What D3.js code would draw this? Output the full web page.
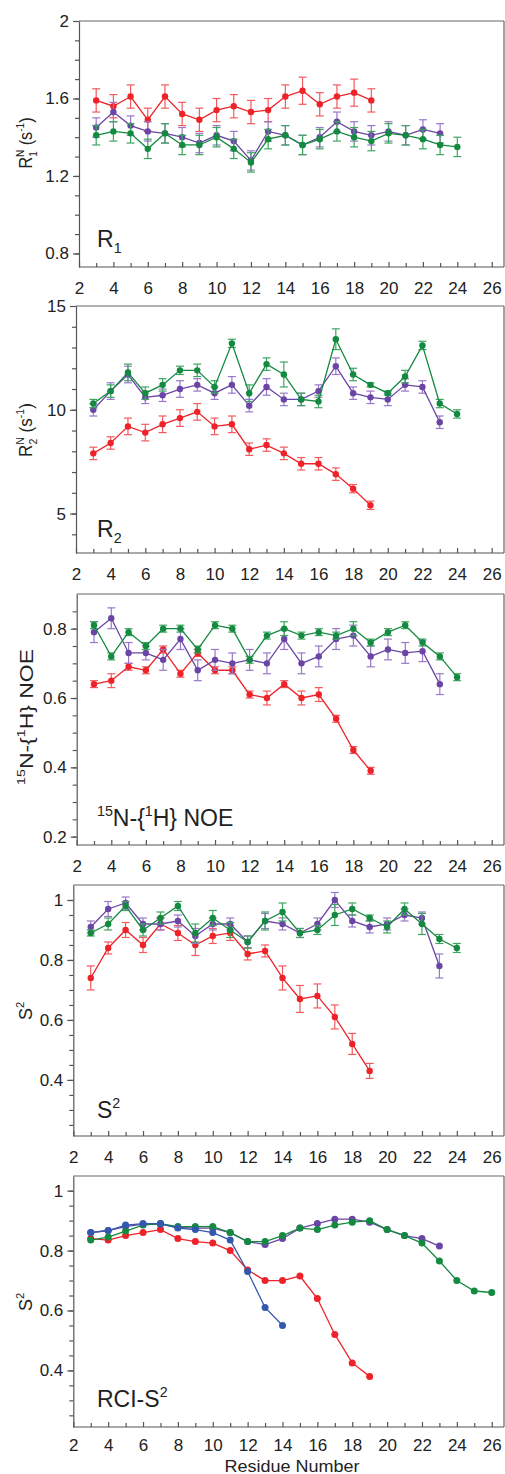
<!DOCTYPE html>
<html>
<head>
<meta charset="utf-8">
<script src="https://cdn.jsdelivr.net/npm/d3@7"></script>
<style>
  body { margin: 0; background: #fff; }
  svg { display: block; font-family: "Liberation Sans", Arial, sans-serif; }
</style>
</head>
<body>
<div id="wrapper"></div>
<script>
// residue numbers start at 3 for every series
const firstResidue = 3;
const xTicks = [2, 4, 6, 8, 10, 12, 14, 16, 18, 20, 22, 24, 26];

// R1 (s-1)
const r1Red = [1.59, 1.56, 1.61, 1.49, 1.61, 1.52, 1.49, 1.54, 1.56, 1.53, 1.54, 1.61, 1.64, 1.57, 1.61, 1.63, 1.59];
const r1RedErr = [0.06, 0.06, 0.06, 0.06, 0.06, 0.06, 0.06, 0.06, 0.06, 0.06, 0.06, 0.06, 0.07, 0.06, 0.06, 0.07, 0.06];
const r1Purple = [1.45, 1.53, 1.46, 1.43, 1.42, 1.40, 1.37, 1.41, 1.38, 1.28, 1.43, 1.41, 1.36, 1.40, 1.48, 1.43, 1.41, 1.43, 1.41, 1.44, 1.42];
const r1PurpleErr = [0.05, 0.05, 0.05, 0.05, 0.05, 0.05, 0.05, 0.05, 0.05, 0.05, 0.05, 0.05, 0.05, 0.05, 0.05, 0.05, 0.05, 0.05, 0.05, 0.05, 0.05];
const r1Green = [1.41, 1.43, 1.42, 1.34, 1.42, 1.36, 1.36, 1.40, 1.34, 1.27, 1.39, 1.41, 1.36, 1.39, 1.43, 1.40, 1.38, 1.42, 1.41, 1.39, 1.36, 1.35];
const r1GreenErr = [0.05, 0.05, 0.05, 0.05, 0.05, 0.05, 0.05, 0.05, 0.05, 0.05, 0.05, 0.05, 0.05, 0.05, 0.05, 0.05, 0.05, 0.05, 0.05, 0.05, 0.05, 0.05];
const r1Ticks = [0.8, 1.2, 1.6, 2];

// R2 (s-1)
const r2Red = [7.9, 8.4, 9.2, 8.9, 9.3, 9.6, 9.9, 9.2, 9.3, 8.1, 8.3, 7.9, 7.4, 7.4, 6.9, 6.2, 5.4];
const r2RedErr = [0.3, 0.3, 0.4, 0.4, 0.4, 0.4, 0.4, 0.4, 0.4, 0.3, 0.3, 0.3, 0.3, 0.3, 0.3, 0.2, 0.2];
const r2Purple = [10.0, 10.9, 11.7, 10.6, 10.7, 11.0, 11.2, 10.8, 11.2, 10.2, 11.1, 10.5, 10.5, 10.9, 12.1, 10.8, 10.6, 10.5, 11.2, 11.1, 9.4];
const r2PurpleErr = [0.3, 0.4, 0.4, 0.3, 0.3, 0.4, 0.3, 0.3, 0.4, 0.3, 0.4, 0.3, 0.3, 0.3, 0.4, 0.3, 0.3, 0.3, 0.3, 0.3, 0.3];
const r2Green = [10.3, 10.9, 11.8, 10.8, 11.2, 11.9, 11.9, 11.1, 13.2, 10.8, 12.2, 11.7, 10.5, 10.4, 13.4, 11.7, 11.2, 10.8, 11.6, 13.1, 10.3, 9.8];
const r2GreenErr = [0.2, 0.3, 0.4, 0.3, 0.3, 0.2, 0.3, 0.3, 0.2, 0.4, 0.3, 0.6, 0.3, 0.3, 0.5, 0.3, 0.1, 0.1, 0.3, 0.2, 0.2, 0.2];
const r2Ticks = [5, 10, 15];

// 15N-{1H} NOE
const noeRed = [0.64, 0.65, 0.69, 0.68, 0.74, 0.67, 0.73, 0.68, 0.68, 0.61, 0.60, 0.64, 0.60, 0.61, 0.54, 0.45, 0.39];
const noeRedErr = [0.01, 0.02, 0.01, 0.01, 0.01, 0.01, 0.01, 0.01, 0.01, 0.01, 0.02, 0.01, 0.02, 0.02, 0.01, 0.01, 0.01];
const noePurple = [0.79, 0.83, 0.73, 0.73, 0.71, 0.77, 0.68, 0.71, 0.70, 0.71, 0.70, 0.77, 0.70, 0.72, 0.77, 0.78, 0.72, 0.74, 0.73, 0.735, 0.64];
const noePurpleErr = [0.03, 0.03, 0.03, 0.02, 0.03, 0.03, 0.03, 0.03, 0.03, 0.03, 0.03, 0.03, 0.03, 0.03, 0.03, 0.03, 0.03, 0.03, 0.03, 0.03, 0.03];
const noeGreen = [0.81, 0.72, 0.79, 0.75, 0.80, 0.80, 0.74, 0.81, 0.80, 0.71, 0.78, 0.80, 0.78, 0.79, 0.78, 0.80, 0.76, 0.79, 0.81, 0.76, 0.72, 0.66];
const noeGreenErr = [0.01, 0.01, 0.01, 0.01, 0.01, 0.01, 0.01, 0.01, 0.01, 0.01, 0.01, 0.02, 0.01, 0.01, 0.01, 0.02, 0.01, 0.01, 0.01, 0.01, 0.01, 0.01];
const noeTicks = [0.2, 0.4, 0.6, 0.8];

// S2
const s2Red = [0.74, 0.84, 0.90, 0.85, 0.92, 0.89, 0.85, 0.88, 0.89, 0.82, 0.83, 0.74, 0.67, 0.68, 0.61, 0.52, 0.43];
const s2RedErr = [0.04, 0.02, 0.025, 0.025, 0.02, 0.025, 0.035, 0.025, 0.025, 0.02, 0.02, 0.04, 0.045, 0.04, 0.04, 0.035, 0.025];
const s2Purple = [0.91, 0.97, 0.99, 0.92, 0.92, 0.93, 0.88, 0.92, 0.92, 0.86, 0.93, 0.92, 0.89, 0.92, 1.0, 0.93, 0.91, 0.92, 0.95, 0.94, 0.78];
const s2PurpleErr = [0.02, 0.025, 0.02, 0.02, 0.02, 0.02, 0.025, 0.02, 0.02, 0.02, 0.025, 0.02, 0.015, 0.02, 0.025, 0.02, 0.02, 0.02, 0.02, 0.02, 0.04];
const s2Green = [0.89, 0.92, 0.98, 0.90, 0.94, 0.98, 0.89, 0.94, 0.90, 0.86, 0.93, 0.96, 0.89, 0.90, 0.95, 0.97, 0.94, 0.91, 0.97, 0.92, 0.87, 0.84];
const s2GreenErr = [0.01, 0.02, 0.015, 0.02, 0.02, 0.015, 0.03, 0.025, 0.025, 0.02, 0.03, 0.03, 0.015, 0.015, 0.035, 0.02, 0.01, 0.02, 0.02, 0.035, 0.015, 0.015];
const s2Ticks = [0.4, 0.6, 0.8, 1];

// RCI-S2
const rciRed = [0.84, 0.835, 0.85, 0.86, 0.87, 0.84, 0.83, 0.825, 0.80, 0.735, 0.70, 0.70, 0.715, 0.64, 0.52, 0.425, 0.38];
const rciPurple = [0.86, 0.867, 0.88, 0.888, 0.888, 0.877, 0.875, 0.875, 0.86, 0.83, 0.82, 0.84, 0.875, 0.89, 0.905, 0.905, 0.895, 0.87, 0.85, 0.84, 0.815];
const rciGreen = [0.835, 0.845, 0.865, 0.885, 0.89, 0.88, 0.88, 0.88, 0.86, 0.83, 0.83, 0.85, 0.875, 0.87, 0.885, 0.895, 0.9, 0.87, 0.85, 0.825, 0.765, 0.70, 0.665, 0.66];
const rciBlue = [0.86, 0.867, 0.885, 0.89, 0.89, 0.875, 0.87, 0.86, 0.835, 0.73, 0.61, 0.55];

const colors = { red: "#ee2329", purple: "#6b45a6", green: "#138a3f", blue: "#3458ad" };
const errColors = { red: "#f25a5e", purple: "#9878c8", green: "#3fa462", blue: "#6f88c8" };

const width = 505, height = 1474;
const svg = d3.select("#wrapper").append("svg")
    .attr("width", width)
    .attr("height", height);

function seriesData(values, errs) {
    return values.map((v, i) => ({ x: firstResidue + i, y: v, e: errs ? errs[i] : 0 }));
}

// text with super/subscripts; parts are [text, "sup"|"sub"|"", dx]
function richText(sel, parts, size) {
    let shift = 0;
    parts.forEach(p => {
        let target = p[1] === "sup" ? -size * 0.42 : p[1] === "sub" ? size * 0.28 : 0;
        let ts = sel.append("tspan")
            .attr("dy", target - shift)
            .style("font-size", p[1] ? (size * 0.62) + "px" : size + "px")
            .text(p[0]);
        if (p[2]) ts.attr("dx", p[2]);
        shift = target;
    });
}

function panel(cfg) {
    const g = svg.append("g");
    const x = d3.scaleLinear().domain([2, 26]).range([cfg.left, 491.7]);
    const y = d3.scaleLinear().domain(cfg.yDomain).range([cfg.bottom, cfg.top]);

    // frame top and right
    g.append("line").attr("x1", cfg.left).attr("x2", 504).attr("y1", cfg.top).attr("y2", cfg.top)
        .attr("stroke", "#666").attr("stroke-width", 1.2);
    g.append("line").attr("x1", 504).attr("x2", 504).attr("y1", cfg.top).attr("y2", cfg.bottom)
        .attr("stroke", "#666").attr("stroke-width", 1.2);

    const xAxis = g.append("g")
        .attr("transform", `translate(0,${cfg.bottom})`)
        .call(d3.axisBottom(x).tickValues(xTicks).tickSize(-5).tickSizeOuter(0).tickPadding(cfg.xPad || 15).tickFormat(d3.format("d")));
    xAxis.select(".domain").attr("d", `M${cfg.left},0H504`);
    g.append("g")
        .attr("transform", `translate(0,${cfg.bottom})`)
        .call(d3.axisBottom(x).tickValues(d3.range(3, 26, 2)).tickSize(-4).tickSizeOuter(0).tickFormat(""))
        .select(".domain").remove();

    g.append("g")
        .attr("transform", `translate(${cfg.left},0)`)
        .call(d3.axisLeft(y).tickValues(cfg.yTicks).tickSize(6).tickSizeOuter(0).tickPadding(4).tickFormat(d => d3.format("")(d)));
    g.append("g")
        .attr("transform", `translate(${cfg.left},0)`)
        .call(d3.axisLeft(y).tickValues(cfg.yMinor).tickSize(4).tickSizeOuter(0).tickFormat(""))
        .select(".domain").remove();

    g.selectAll(".domain, .tick line").attr("stroke", "#555").attr("stroke-width", 1.2);
    g.selectAll(".tick text").attr("fill", "#222").style("font-size", "17px").style("font-family", "Liberation Sans, Arial, sans-serif");

    // y axis title, stretched along its direction to the measured length
    const yt = g.append("text")
        .attr("text-anchor", "middle")
        .attr("fill", "#222");
    richText(yt, cfg.yTitle, 18);
    const len = yt.node().getComputedTextLength();
    const k = cfg.titleLen ? cfg.titleLen / len : 1;
    yt.attr("transform", `translate(${cfg.titleX},${cfg.titleY}) rotate(-90) scale(${k},1)`);

    // panel label
    const lab = g.append("text")
        .attr("x", 97).attr("y", cfg.labelY)
        .attr("fill", "#222");
    richText(lab, cfg.label, 23);

    const line = d3.line().x(d => x(d.x)).y(d => y(d.y));

    cfg.series.forEach(s => {
        const data = seriesData(s.values, s.errs);
        const sg = g.append("g");
        if (s.errs) {
            const eb = sg.selectAll(".err").data(data).enter().append("g");
            eb.append("line")
                .attr("x1", d => x(d.x)).attr("x2", d => x(d.x))
                .attr("y1", d => y(d.y - d.e)).attr("y2", d => y(d.y + d.e))
                .attr("stroke", errColors[s.color]).attr("stroke-width", 1.2);
            [-1, 1].forEach(sign => {
                eb.append("line")
                    .attr("x1", d => x(d.x) - 4).attr("x2", d => x(d.x) + 4)
                    .attr("y1", d => y(d.y + sign * d.e)).attr("y2", d => y(d.y + sign * d.e))
                    .attr("stroke", errColors[s.color]).attr("stroke-width", 1.2);
            });
        }
        sg.append("path")
            .datum(data)
            .attr("d", line)
            .attr("fill", "none")
            .attr("stroke", colors[s.color])
            .attr("stroke-width", 1.3);
        sg.selectAll("circle").data(data).enter().append("circle")
            .attr("cx", d => x(d.x))
            .attr("cy", d => y(d.y))
            .attr("r", cfg.r || 3.2)
            .attr("fill", colors[s.color]);
    });
}

panel({
    left: 79, top: 21, bottom: 267, yDomain: [0.73, 2],
    yTicks: r1Ticks, yMinor: d3.range(8, 20).map(v => v / 10),
    titleX: 32, titleY: 143, titleLen: 57, labelY: 247,
    yTitle: [["R", ""], ["1", "sub"], ["N", "sup", -6.5], [" (s", ""], ["-1", "sup"], [")", ""]],
    label: [["R", ""], ["1", "sub"]],
    series: [
        { values: r1Red, errs: r1RedErr, color: "red" },
        { values: r1Purple, errs: r1PurpleErr, color: "purple" },
        { values: r1Green, errs: r1GreenErr, color: "green" }
    ]
});

panel({
    left: 76, top: 306, bottom: 553, yDomain: [3.1, 15],
    yTicks: r2Ticks, yMinor: d3.range(4, 15),
    titleX: 32, titleY: 430, titleLen: 60, labelY: 537,
    yTitle: [["R", ""], ["2", "sub"], ["N", "sup", -6.5], [" (s", ""], ["-1", "sup"], [")", ""]],
    label: [["R", ""], ["2", "sub"]],
    series: [
        { values: r2Red, errs: r2RedErr, color: "red" },
        { values: r2Purple, errs: r2PurpleErr, color: "purple" },
        { values: r2Green, errs: r2GreenErr, color: "green" }
    ]
});

panel({
    left: 76.7, top: 594, bottom: 845, yDomain: [0.176, 0.9],
    yTicks: noeTicks, yMinor: d3.range(4, 18).map(v => v / 20),
    titleX: 33, titleY: 717, titleLen: 136, labelY: 826,
    yTitle: [["15", "sup"], ["N-{", ""], ["1", "sup"], ["H} NOE", ""]],
    label: [["15", "sup"], ["N-{", ""], ["1", "sup"], ["H} NOE", ""]],
    series: [
        { values: noeRed, errs: noeRedErr, color: "red" },
        { values: noePurple, errs: noePurpleErr, color: "purple" },
        { values: noeGreen, errs: noeGreenErr, color: "green" }
    ]
});

panel({
    left: 73.3, top: 885, bottom: 1136, yDomain: [0.213, 1.05],
    yTicks: s2Ticks, yMinor: d3.range(5, 21).map(v => v / 20),
    titleX: 32, titleY: 1011, labelY: 1118,
    yTitle: [["S", ""], ["2", "sup"]],
    label: [["S", ""], ["2", "sup"]],
    series: [
        { values: s2Red, errs: s2RedErr, color: "red" },
        { values: s2Purple, errs: s2PurpleErr, color: "purple" },
        { values: s2Green, errs: s2GreenErr, color: "green" }
    ]
});

panel({
    left: 73.3, top: 1176, bottom: 1427, yDomain: [0.211, 1.049],
    yTicks: s2Ticks, yMinor: d3.range(5, 21).map(v => v / 20),
    titleX: 32, titleY: 1302, labelY: 1407, r: 3.5, xPad: 12,
    yTitle: [["S", ""], ["2", "sup"]],
    label: [["RCI-S", ""], ["2", "sup"]],
    series: [
        { values: rciRed, color: "red" },
        { values: rciPurple, color: "purple" },
        { values: rciGreen, color: "green" },
        { values: rciBlue, color: "blue" }
    ]
});

svg.append("text")
    .attr("x", 292).attr("y", 1472)
    .attr("text-anchor", "middle")
    .attr("fill", "#222")
    .style("font-size", "16px")
    .attr("textLength", 135)
    .attr("lengthAdjust", "spacingAndGlyphs")
    .text("Residue Number");
</script>
</body>
</html>
